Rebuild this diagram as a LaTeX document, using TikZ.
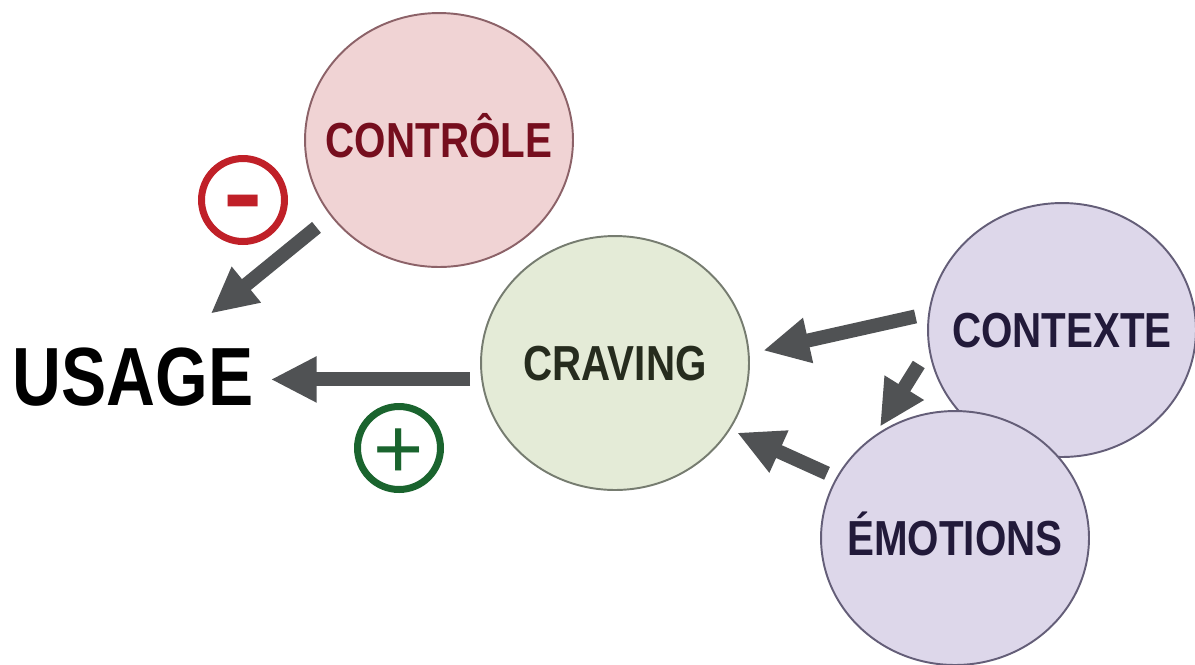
\documentclass[tikz,border=0pt]{standalone}
\usepackage{fontspec}
\setmainfont{Liberation Sans}[FakeStretch=0.82]
\newfontfamily\signfont{Liberation Sans}
\usetikzlibrary{arrows.meta}
\usetikzlibrary{shapes.geometric}

\definecolor{controlefill}{RGB}{240,211,212}
\definecolor{controleline}{RGB}{140,98,104}
\definecolor{controletext}{RGB}{118,14,30}
\definecolor{cravingfill}{RGB}{228,235,215}
\definecolor{cravingline}{RGB}{118,124,112}
\definecolor{cravingtext}{RGB}{38,44,30}
\definecolor{moodfill}{RGB}{221,215,234}
\definecolor{moodline}{RGB}{100,94,120}
\definecolor{moodtext}{RGB}{34,26,58}
\definecolor{arrowgray}{RGB}{80,82,84}
\definecolor{minusred}{RGB}{192,32,40}
\definecolor{plusgreen}{RGB}{26,100,46}

\tikzset{
    bubble/.style={
        ellipse, minimum width=5.36cm, minimum height=5.08cm,
        line width=1.1pt, inner xsep=-0.7cm, inner ysep=0pt,
        font=\fontsize{28}{30}\selectfont\bfseries,
        text height=20pt, text depth=0pt,
    },
    bigarrow/.style={
        draw=arrowgray, line width=0.28cm,
        -{Triangle[length=0.92cm,width=0.86cm]},
    },
    signring/.style={
        circle, minimum size=1.66cm,
        line width=0.14cm, inner sep=0pt,
    },
}

\begin{document}
\begin{tikzpicture}[x=0.02cm, y=-0.02cm]
        \useasboundingbox (0,0) rectangle (1195,664);

        \node (controle) at(439,140) [
            bubble, draw=controleline, fill=controlefill,
            text=controletext,
        ] {CONTRÔLE};
        \node (craving) at(615,363) [
            bubble, draw=cravingline, fill=cravingfill,
            text=cravingtext,
        ] {CRAVING};
        \node (contexte) at(1062,330) [
            bubble, draw=moodline, fill=moodfill,
            text=moodtext,
        ] {CONTEXTE};
        \node (emotions) at(955,538) [
            bubble, draw=moodline, fill=moodfill,
            text=moodtext,
        ] {ÉMOTIONS};

        \node (usage) at(133,377) [
            inner sep=0pt, text=black,
            font=\fontsize{47}{50}\selectfont\bfseries,
        ] {USAGE};

        \node (minus) at(243,200) [
            signring, draw=minusred, text=minusred,
            font=\signfont\fontsize{56}{60}\selectfont\bfseries,
            text height=29.7pt, text depth=0pt,
        ] {\scalebox{1.2}[1]{-}};
        \node (plus) at(399,448) [
            signring, draw=plusgreen, text=plusgreen,
            font=\signfont\fontsize{49}{52}\selectfont,
            text height=35pt, text depth=0pt,
        ] {+};

        \draw[bigarrow, shorten <=0.36cm, shorten >=1.07cm] (controle.215) -- (usage);
        \draw[bigarrow, shorten <=0.22cm, shorten >=0.34cm] (craving.187) -- (craving.187 -| usage.east);
        \draw[bigarrow, shorten <=0.26cm, shorten >=0.28cm] (contexte.173) -- (craving.4);
        \draw[bigarrow, shorten <=0.37cm, shorten >=0.2cm] (contexte.188) -- (emotions.128);
        \draw[bigarrow, shorten <=0.2cm, shorten >=0.15cm] (emotions.153) -- (craving.330);
    \end{tikzpicture}
\end{document}
